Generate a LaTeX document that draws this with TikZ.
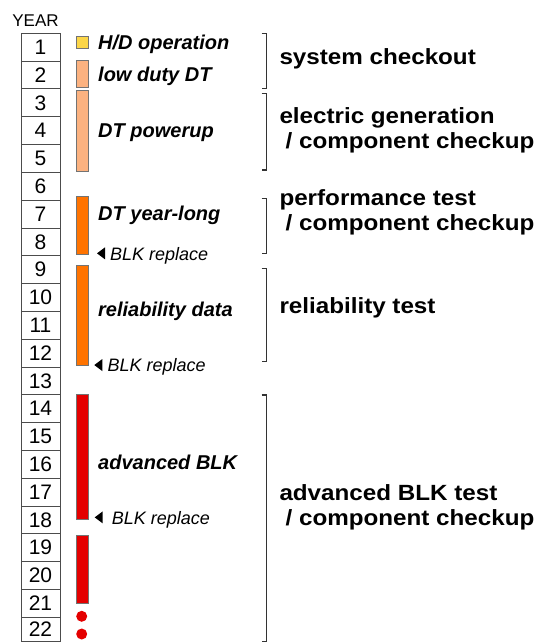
\documentclass[tikz,border=0pt]{standalone}
\usepackage{fontspec}
\setmainfont{Liberation Sans}
\newfontfamily\widefont[FakeStretch=1.1]{Liberation Sans}

\definecolor{hdyellow}{RGB}{252,214,72}
\definecolor{dtpeach}{RGB}{252,178,128}
\definecolor{dtorange}{RGB}{255,115,0}
\definecolor{blkred}{RGB}{228,0,0}

\begin{document}
\begin{tikzpicture}[x=1bp,y=-1bp,node distance=27.8bp,
    yearbox/.style={draw=black!70,line width=0.8bp,minimum width=39bp,minimum height=27.8bp,inner sep=0pt,font=\fontsize{21bp}{21bp}\selectfont},
    yearhead/.style={inner sep=0pt,font=\fontsize{17bp}{17bp}\selectfont},
    bar/.style={draw=black!55,line width=0.6bp},
    phase/.style={anchor=base west,inner sep=0pt,font=\fontsize{20bp}{20bp}\selectfont\bfseries\itshape},
    blk/.style={anchor=base west,inner sep=0pt,font=\fontsize{18bp}{18bp}\selectfont\itshape},
    brk/.style={draw=black!80,line width=1.3bp},
    test/.style={anchor=base west,inner sep=0pt,align=left,font=\widefont\bfseries\fontsize{22bp}{25bp}\selectfont}]
            \useasboundingbox (0,0) rectangle (543,643);

            \node[yearbox] (y1) at (40.5,47.2) {1};
            \node[yearbox] (y2) [below of = y1] {2};
            \node[yearbox] (y3) [below of = y2] {3};
            \node[yearbox] (y4) [below of = y3] {4};
            \node[yearbox] (y5) [below of = y4] {5};
            \node[yearbox] (y6) [below of = y5] {6};
            \node[yearbox] (y7) [below of = y6] {7};
            \node[yearbox] (y8) [below of = y7] {8};
            \node[yearbox] (y9) [below of = y8] {9};
            \node[yearbox] (y10) [below of = y9] {10};
            \node[yearbox] (y11) [below of = y10] {11};
            \node[yearbox] (y12) [below of = y11] {12};
            \node[yearbox] (y13) [below of = y12] {13};
            \node[yearbox] (y14) [below of = y13] {14};
            \node[yearbox] (y15) [below of = y14] {15};
            \node[yearbox] (y16) [below of = y15] {16};
            \node[yearbox] (y17) [below of = y16] {17};
            \node[yearbox] (y18) [below of = y17] {18};
            \node[yearbox] (y19) [below of = y18] {19};
            \node[yearbox] (y20) [below of = y19] {20};
            \node[yearbox] (y21) [below of = y20] {21};
            \node[yearbox,minimum height=24.4bp] (y22) [below of = y21, node distance=26.1bp] {22};
            \node[yearhead] (year) [above of = y1, node distance=26.4bp, xshift=-5bp] {YEAR};

            \draw[bar,fill=hdyellow] (76,36.7) rectangle (88,48.5);
            \draw[bar,fill=dtpeach] (76,60) rectangle (88,87.3);
            \draw[bar,fill=dtpeach] (76,90.7) rectangle (88,171.7);
            \draw[bar,fill=dtorange] (76,196.7) rectangle (88,254.3);
            \draw[bar,fill=dtorange] (76,265) rectangle (88,365.7);
            \draw[bar,fill=blkred] (76,394.3) rectangle (88,519.3);
            \draw[bar,fill=blkred] (76,535) rectangle (88,603.3);
            \fill[blkred] (81.7,616.3) circle (5.5bp);
            \fill[blkred] (81.7,634) circle (5.5bp);

            \node[phase] (hd) at (98,50) {H/D operation};
            \node[phase] (lowduty) at (98,81.5) {low duty DT};
            \node[phase] (powerup) at (98,137.3) {DT powerup};
            \node[phase] (yearlong) at (98,220) {DT year-long};
            \node[phase] (reldata) at (98,316.5) {reliability data};
            \node[phase] (advblk) at (98,469) {advanced BLK};

            \node[blk] (blk1) at (110,260) {BLK replace};
            \node[blk] (blk2) at (107.3,371.7) {BLK replace};
            \node[blk] (blk3) at (111.7,524) {BLK replace};
            \fill ([xshift=-5bp,yshift=2bp]blk1.west) -- ++(0,6) -- ++(-8,-6) -- ++(8,-6) -- cycle;
            \fill ([xshift=-5bp,yshift=2bp]blk2.west) -- ++(0,6) -- ++(-8,-6) -- ++(8,-6) -- cycle;
            \fill ([xshift=-9bp,yshift=2bp]blk3.west) -- ++(0,6) -- ++(-8,-6) -- ++(8,-6) -- cycle;

            \draw[brk] (261.5,33.3) -- (266.7,33.3) -- (266.7,88.3) -- (261.5,88.3);
            \draw[brk] (261.5,93.3) -- (266.7,93.3) -- (266.7,170) -- (261.5,170);
            \draw[brk] (261.5,198.3) -- (266.7,198.3) -- (266.7,253.3) -- (261.5,253.3);
            \draw[brk] (261.5,268.3) -- (266.7,268.3) -- (266.7,361.7) -- (261.5,361.7);
            \draw[brk] (261.5,395) -- (266.7,395) -- (266.7,641.5) -- (261.5,641.5);

            \node[test] (syscheck) at (279.3,65) {system checkout};
            \node[test] (elecgen) at (279.3,148.3) {electric generation\\\hspace*{0.28em}/ component checkup};
            \node[test] (perftest) at (279.3,230.5) {performance test\\\hspace*{0.28em}/ component checkup};
            \node[test] (reltest) at (279.3,313.3) {reliability test};
            \node[test] (advtest) at (279.3,525.5) {advanced BLK test\\\hspace*{0.28em}/ component checkup};
\end{tikzpicture}
\end{document}
